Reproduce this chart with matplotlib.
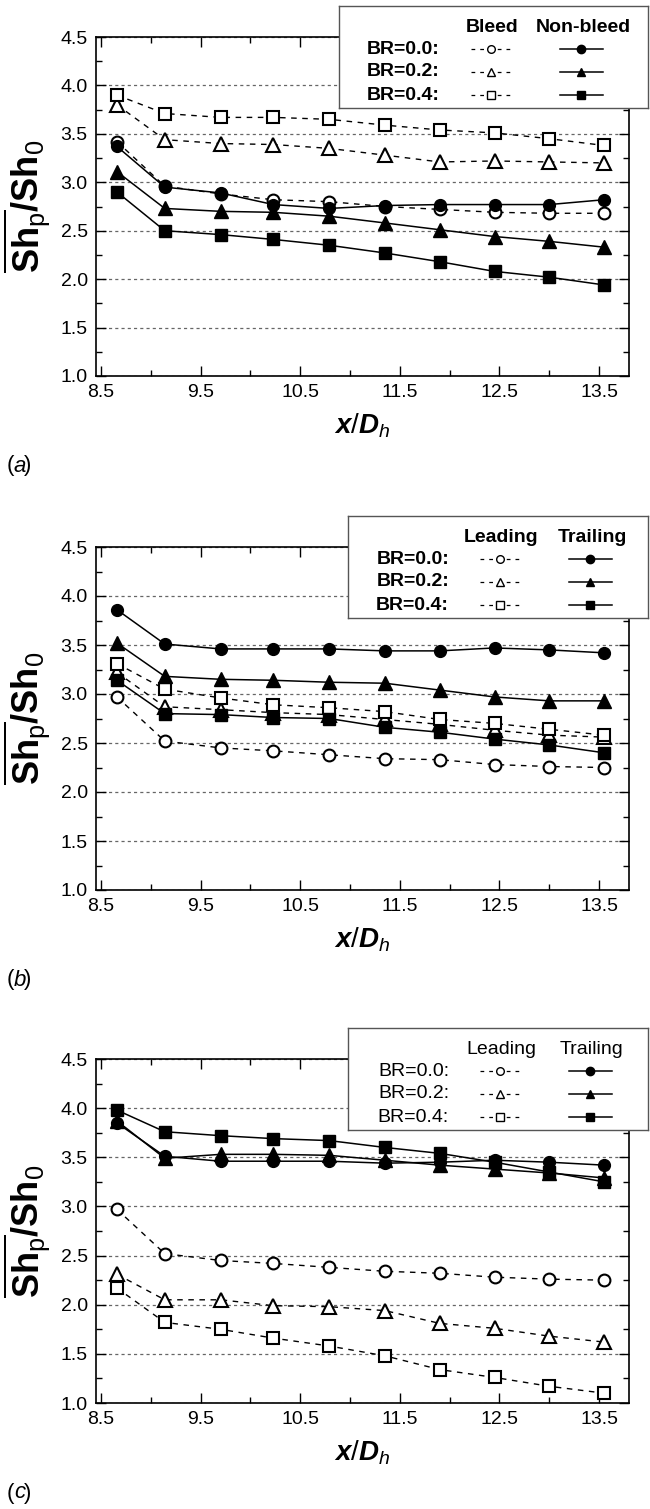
import matplotlib
matplotlib.use("Agg")
import matplotlib.pyplot as plt
from matplotlib.ticker import MultipleLocator, FixedLocator

plt.rcParams['font.family'] = ['Liberation Sans', 'DejaVu Sans']
plt.rcParams['mathtext.fontset'] = 'custom'
plt.rcParams['mathtext.rm'] = 'Liberation Sans'
plt.rcParams['mathtext.bf'] = 'Liberation Sans:bold'
plt.rcParams['mathtext.it'] = 'Liberation Sans:italic:bold'
plt.rcParams['mathtext.sf'] = 'Liberation Sans:italic'

# streamwise stations
x_dh = [8.66, 9.14, 9.70, 10.23, 10.79, 11.35, 11.90, 12.45, 13.00, 13.55]
br_labels = ['BR=0.0:', 'BR=0.2:', 'BR=0.4:']
x_ticks = [8.5, 9.5, 10.5, 11.5, 12.5, 13.5]

# (a) bleed vs non-bleed
a_bleed_00 = [3.42, 2.96, 2.88, 2.82, 2.80, 2.75, 2.72, 2.69, 2.68, 2.68]
a_bleed_02 = [3.80, 3.44, 3.40, 3.39, 3.35, 3.28, 3.21, 3.22, 3.21, 3.20]
a_bleed_04 = [3.90, 3.71, 3.67, 3.67, 3.65, 3.59, 3.54, 3.51, 3.45, 3.38]
a_nonbleed_00 = [3.37, 2.95, 2.89, 2.77, 2.73, 2.76, 2.77, 2.77, 2.77, 2.82]
a_nonbleed_02 = [3.11, 2.73, 2.70, 2.69, 2.65, 2.58, 2.51, 2.44, 2.39, 2.33]
a_nonbleed_04 = [2.90, 2.50, 2.46, 2.41, 2.35, 2.27, 2.18, 2.08, 2.02, 1.94]

# (b) leading vs trailing
b_lead_00 = [2.97, 2.52, 2.45, 2.42, 2.38, 2.34, 2.33, 2.28, 2.26, 2.25]
b_lead_02 = [3.22, 2.87, 2.84, 2.81, 2.79, 2.74, 2.69, 2.63, 2.58, 2.56]
b_lead_04 = [3.31, 3.05, 2.96, 2.89, 2.86, 2.82, 2.74, 2.70, 2.64, 2.58]
b_trail_00 = [3.86, 3.51, 3.46, 3.46, 3.46, 3.44, 3.44, 3.47, 3.45, 3.42]
b_trail_02 = [3.52, 3.18, 3.15, 3.14, 3.12, 3.11, 3.04, 2.97, 2.93, 2.93]
b_trail_04 = [3.14, 2.80, 2.79, 2.76, 2.75, 2.66, 2.61, 2.54, 2.48, 2.40]

# (c) leading vs trailing
c_lead_00 = [2.97, 2.52, 2.45, 2.42, 2.38, 2.34, 2.32, 2.28, 2.26, 2.25]
c_lead_02 = [2.31, 2.05, 2.05, 1.99, 1.98, 1.94, 1.81, 1.76, 1.68, 1.62]
c_lead_04 = [2.17, 1.82, 1.75, 1.66, 1.58, 1.48, 1.34, 1.26, 1.17, 1.10]
c_trail_00 = [3.85, 3.51, 3.46, 3.46, 3.46, 3.44, 3.45, 3.47, 3.45, 3.42]
c_trail_02 = [3.87, 3.49, 3.53, 3.53, 3.52, 3.47, 3.42, 3.38, 3.34, 3.29]
c_trail_04 = [3.98, 3.76, 3.72, 3.69, 3.67, 3.60, 3.54, 3.45, 3.35, 3.25]

W, H = 650, 1509
fig = plt.figure(figsize=(W / 100, H / 100), dpi=100)


def px_rect(left, top, right, bottom):
    return [left / W, 1 - bottom / H, (right - left) / W, (bottom - top) / H]


markers = ['o', '^', 's']
msize = [8.5, 10, 8.5]

panels = [
    dict(top=37, bottom=376, dashed=[a_bleed_00, a_bleed_02, a_bleed_04],
         solid=[a_nonbleed_00, a_nonbleed_02, a_nonbleed_04],
         heads=('Bleed', 'Non-bleed'), bold=True, tag='a', leg_left=339),
    dict(top=547, bottom=890, dashed=[b_lead_00, b_lead_02, b_lead_04],
         solid=[b_trail_00, b_trail_02, b_trail_04],
         heads=('Leading', 'Trailing'), bold=True, tag='b', leg_left=348),
    dict(top=1059, bottom=1403, dashed=[c_lead_00, c_lead_02, c_lead_04],
         solid=[c_trail_00, c_trail_02, c_trail_04],
         heads=('Leading', 'Trailing'), bold=False, tag='c', leg_left=348),
]

for p in panels:
    ax = fig.add_axes(px_rect(96, p['top'], 629, p['bottom']))
    for ys, m, ms in zip(p['dashed'], markers, msize):
        ax.plot(x_dh, ys, color='black', lw=1.0, ls=(0, (4, 4)), marker=m,
                ms=ms, mfc='white', mec='black', mew=1.5, zorder=3)
    for ys, m, ms in zip(p['solid'], markers, msize):
        ax.plot(x_dh, ys, color='black', lw=1.1, ls='-', marker=m,
                ms=ms, mfc='black', mec='black', zorder=4)

    ax.set_xlim(8.45, 13.8)
    ax.set_ylim(1.0, 4.5)
    ax.xaxis.set_major_locator(FixedLocator(x_ticks))
    ax.xaxis.set_minor_locator(MultipleLocator(0.5))
    ax.yaxis.set_major_locator(MultipleLocator(0.5))
    ax.yaxis.set_minor_locator(MultipleLocator(0.25))
    ax.set_xticklabels([f'{v:.1f}' for v in x_ticks])
    ax.set_yticklabels([f'{v:.1f}' for v in ax.get_yticks()])
    ax.tick_params(which='both', direction='in', top=True, right=True,
                   labelsize=14, width=1.0, pad=6)
    ax.tick_params(which='major', length=7)
    ax.tick_params(which='minor', length=4)
    ax.yaxis.grid(True, which='major', color='#666666', lw=0.9, ls=(0, (2.5, 2.5)))
    ax.set_axisbelow(True)
    for s in ax.spines.values():
        s.set_linewidth(1.2)

    ax.set_xlabel(r'$x/D_{\mathsf{h}}$', fontsize=20, labelpad=7)
    ax.set_ylabel(r'$\overline{\mathbf{Sh}_{\mathrm{p}}}\mathbf{/Sh}_{\mathrm{0}}$',
                  fontsize=26, labelpad=6)

    ty = 1 - (p['bottom'] + 90) / H
    fig.text(7 / W, ty, '(', fontsize=16, va='center', ha='left')
    fig.text(14 / W, ty, p['tag'], fontsize=16, va='center', ha='left', style='italic')
    fig.text(24 / W, ty, ')', fontsize=16, va='center', ha='left')

    # hand-built legend box (two sample columns)
    l0 = p['leg_left']
    lt = p['top'] - 31
    lw_px = 648 - l0
    lg = fig.add_axes(px_rect(l0, lt, 648, lt + 102), zorder=10)
    lg.set_xlim(0, lw_px)
    lg.set_ylim(102, 0)
    lg.set_xticks([])
    lg.set_yticks([])
    lg.set_facecolor('white')
    for s in lg.spines.values():
        s.set_color('#555555')
        s.set_linewidth(1.0)
    fw = 'bold' if p['bold'] else 'normal'
    lg.text(153, 22, p['heads'][0], ha='center', va='center', fontsize=14, fontweight=fw)
    lg.text(244, 22, p['heads'][1], ha='center', va='center', fontsize=14, fontweight=fw)
    for i, (lab, m) in enumerate(zip(br_labels, markers)):
        yy = 43 + 23 * i
        lg.text(101, yy, lab, ha='right', va='center', fontsize=14, fontweight=fw)
        lg.plot([132, 171], [yy, yy], color='black', lw=0.9, ls=(0, (3, 4)))
        lg.plot([152], [yy], marker=m, ms=5.5, mfc='white', mec='black', mew=1.0)
        lg.plot([221, 264], [yy, yy], color='black', lw=1.1)
        lg.plot([242], [yy], marker=m, ms=6, mfc='black', mec='black')

fig.savefig('out.png', dpi=100)
